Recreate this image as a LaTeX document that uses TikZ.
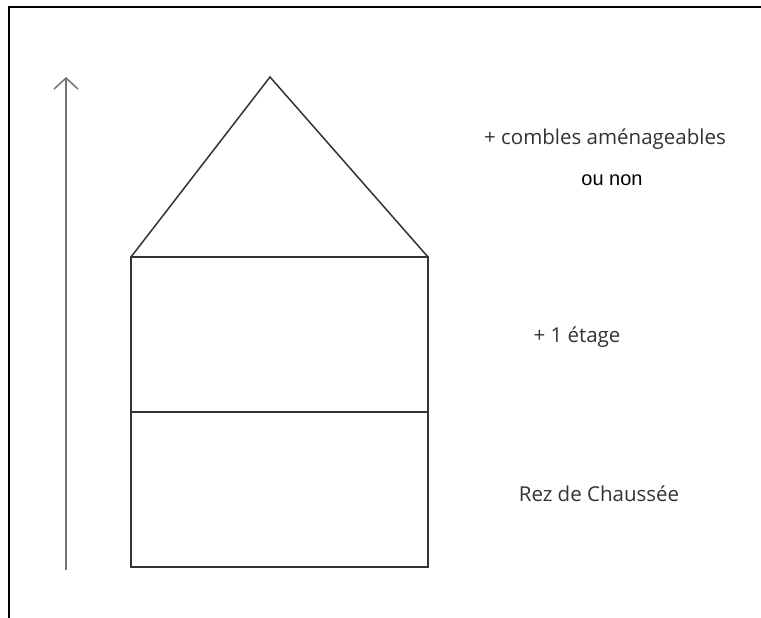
\documentclass[tikz,border=0pt]{standalone}
\usepackage{fontspec}
\setmainfont{Open Sans}
\newfontfamily\arialfont{Liberation Sans}
\usetikzlibrary{arrows.meta}
\tikzset{
  house/.style={line width=1.5pt, draw=black!80},
  frameline/.style={line width=2pt, draw=black},
  label/.style={font=\fontsize{20.5}{24}\selectfont, text=black!80, inner sep=0pt},
  uparrow/.style={line width=1.5pt, draw=black!55, -{Straight Barb[length=11pt,width=24pt,line width=1.5pt]}}
}
\begin{document}
\begin{tikzpicture}[x=1pt,y=-1pt]
\useasboundingbox (0,0) rectangle (761,618);
% frame (top and left edges only)
\draw[frameline] (761,7.5) -- (9,7.5) -- (9,618);
% coordinates
\coordinate (apex) at (270,77);
\coordinate (tl) at (131,257);
\coordinate (tr) at (428,257);
\coordinate (ml) at (131,412);
\coordinate (mr) at (428,412);
\coordinate (bl) at (131,567);
\coordinate (br) at (428,567);
\coordinate (abot) at (66,570);
\coordinate (atop) at (66,77);
% roof
\draw[house, line join=miter] (tl) -- (apex) -- (tr);
% floors
\draw[house] (tl) rectangle (mr);
\draw[house] (ml) rectangle (br);
% arrow
\draw[uparrow] (abot) -- (atop);
% labels
\node[label] (combles) at (605,139) {+ combles aménageables};
\node[label, font=\arialfont\fontsize{20}{24}\selectfont, text=black] (ounon) at (612,180) {ou non};
\node[label] (etage) at (577,337) {+ 1 étage};
\node[label] (rdc) at (599,494) {Rez de Chaussée};
\end{tikzpicture}
\end{document}
